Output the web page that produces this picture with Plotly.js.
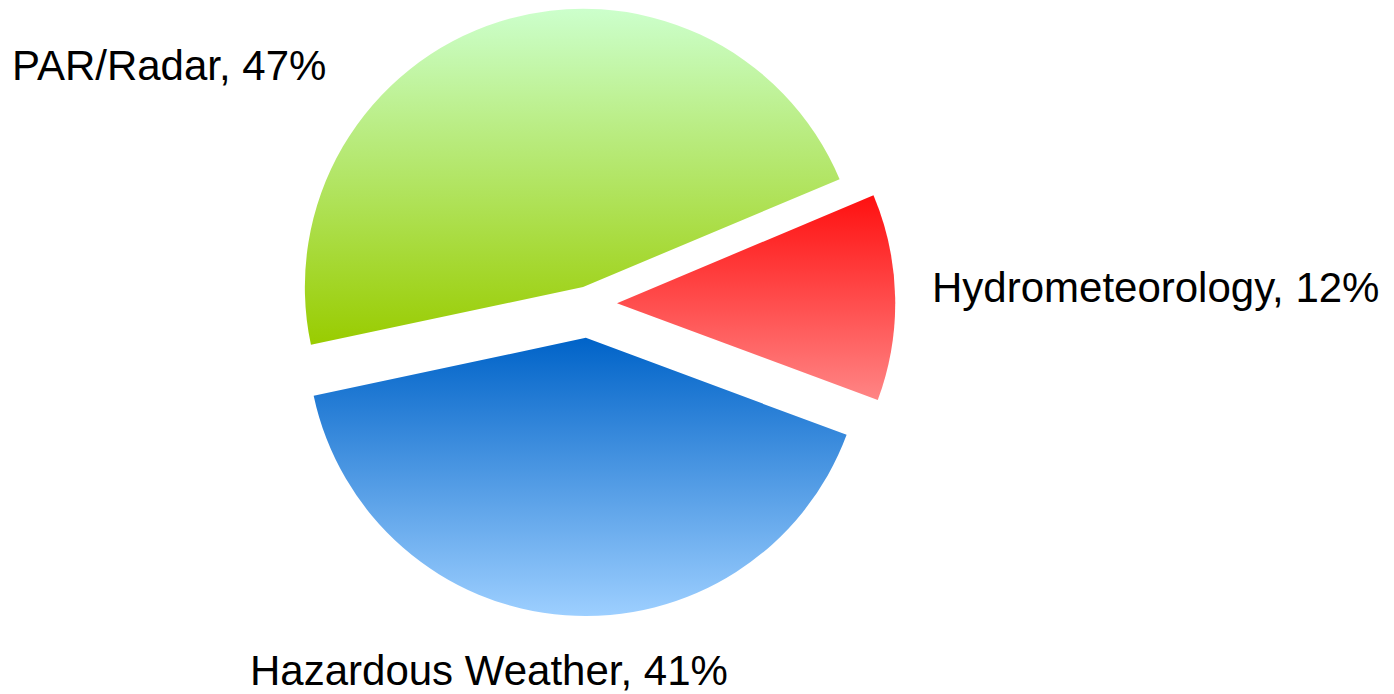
<!DOCTYPE html>
<html>
<head>
<meta charset="utf-8">
<script src="https://cdn.plot.ly/plotly-3.0.1.min.js"></script>
<style>
  html, body { margin:0; padding:0; background:#fff; overflow:hidden; }
  #chart { position:absolute; left:0; top:-20px; width:1394px; height:714px; }
</style>
</head>
<body>
<div id="chart"></div>
<script>
// ---- data ----
const labels = ["PAR/Radar", "Hydrometeorology", "Hazardous Weather"];
const values = [47, 12, 41];
const labelText = ["PAR/Radar, 47%", "Hydrometeorology, 12%", "Hazardous Weather, 41%"];

// ---- styles ----
const gradTop    = ["#ccffcc", "#ff1010", "#0063c8"];
const gradBottom = ["#99cc00", "#ff8585", "#9dcfff"];
const W = 1394, H = 714;
function px(x){ return x / W; }
function py(y){ return 1 - (y + 20) / H; }
const labelPos = [[10, 65], [930, 287], [248, 670]];

const trace = {
  type: "pie",
  labels: labels,
  values: values,
  sort: false,
  direction: "clockwise",
  rotation: -102,
  pull: [0.063, 0.103, 0.123],
  textinfo: "none",
  hoverinfo: "label+percent",
  marker: { colors: gradBottom, line: { width: 0 } },
  domain: { x: [0.1979, 0.6462], y: [0.0966, 0.9966] },
  showlegend: false
};

const layout = {
  width: W, height: H,
  margin: { l: 0, r: 0, t: 0, b: 0 },
  paper_bgcolor: "#ffffff",
  showlegend: false,
  annotations: labelText.map((t, i) => ({
    text: t, xref: "paper", yref: "paper",
    x: px(labelPos[i][0]), y: py(labelPos[i][1]),
    xanchor: "left", yanchor: "middle", showarrow: false,
    font: { family: "Liberation Sans, Arial, sans-serif", size: 42, color: "#000000" }
  }))
};

const gd = document.getElementById("chart");
Plotly.newPlot(gd, [trace], layout, { displayModeBar: false, staticPlot: true }).then(() => {
  const svg = gd.querySelector("svg.main-svg");
  let defs = svg.querySelector("defs");
  const NS = "http://www.w3.org/2000/svg";
  if (!defs) { defs = document.createElementNS(NS, "defs"); svg.insertBefore(defs, svg.firstChild); }
  const paths = gd.querySelectorAll("g.slice path.surface");
  paths.forEach((p, i) => {
    const g = document.createElementNS(NS, "linearGradient");
    g.setAttribute("id", "sliceGrad" + i);
    g.setAttribute("x1", "0"); g.setAttribute("y1", "0");
    g.setAttribute("x2", "0"); g.setAttribute("y2", "1");
    const s1 = document.createElementNS(NS, "stop");
    s1.setAttribute("offset", "0"); s1.setAttribute("stop-color", gradTop[i]);
    const s2 = document.createElementNS(NS, "stop");
    s2.setAttribute("offset", "1"); s2.setAttribute("stop-color", gradBottom[i]);
    g.appendChild(s1); g.appendChild(s2);
    defs.appendChild(g);
    p.style.setProperty("fill", "url(#sliceGrad" + i + ")");
    p.style.setProperty("fill-opacity", "1");
  });
});
</script>
</body>
</html>
